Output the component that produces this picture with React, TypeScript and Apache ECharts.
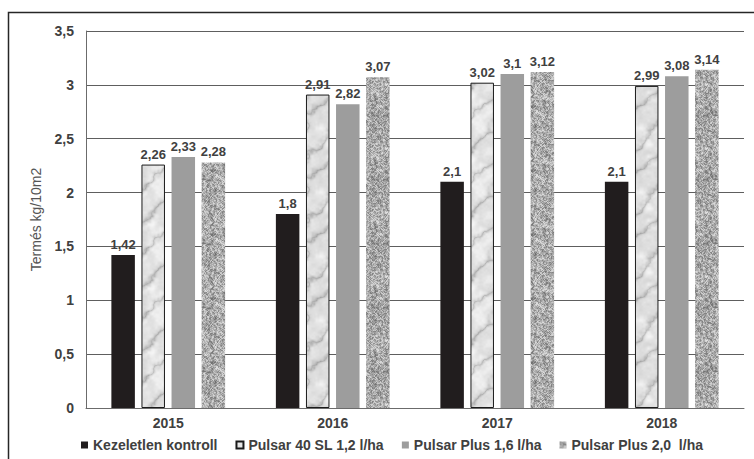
import React, { useEffect, useRef } from "react";
import * as echarts from "echarts";

const years = ["2015", "2016", "2017", "2018"];
const seriesNames = [
  "Kezeletlen kontroll",
  "Pulsar 40 SL 1,2 l/ha",
  "Pulsar Plus 1,6 l/ha",
  "Pulsar Plus 2,0  l/ha",
];
const kontroll = [1.42, 1.8, 2.1, 2.1];
const pulsar40 = [2.26, 2.91, 3.02, 2.99];
const plus16 = [2.33, 2.82, 3.1, 3.08];
const plus20 = [2.28, 3.07, 3.12, 3.14];
const yTicks = { min: 0, max: 3.5, interval: 0.5 };
const yAxisTitle = "Termés kg/10m2";

const FONT = "'Liberation Sans', Arial, sans-serif";

// deterministic integer hash -> [0,1)
function hash(x: number, y: number, s: number): number {
  let h = Math.imul(x, 374761393) + Math.imul(y, 668265263) + Math.imul(s, 982451653);
  h = Math.imul(h ^ (h >>> 13), 1274126177);
  h ^= h >>> 16;
  return (h >>> 0) / 4294967296;
}

// tileable value noise
function valueNoise(x: number, y: number, cell: number, px: number, py: number, seed: number): number {
  const gx = x / cell;
  const gy = y / cell;
  const x0 = Math.floor(gx);
  const y0 = Math.floor(gy);
  const fx = gx - x0;
  const fy = gy - y0;
  const sx = fx * fx * (3 - 2 * fx);
  const sy = fy * fy * (3 - 2 * fy);
  const w = (a: number, n: number) => ((a % n) + n) % n;
  const a = hash(w(x0, px), w(y0, py), seed);
  const b = hash(w(x0 + 1, px), w(y0, py), seed);
  const c = hash(w(x0, px), w(y0 + 1, py), seed);
  const d = hash(w(x0 + 1, px), w(y0 + 1, py), seed);
  return (a * (1 - sx) + b * sx) * (1 - sy) + (c * (1 - sx) + d * sx) * sy;
}

function fbm(x: number, y: number, W: number, H: number, seed: number, base = 16): number {
  let sum = 0;
  let amp = 0.5;
  let cell = base;
  let norm = 0;
  for (let o = 0; o < 4 && cell >= 2; o++) {
    sum += amp * valueNoise(x, y, cell, W / cell, H / cell, seed + o);
    norm += amp;
    amp *= 0.5;
    cell /= 2;
  }
  return sum / norm;
}

// soft white marble with light grey diagonal wisps
function makeMarble(): HTMLCanvasElement {
  const W = 64;
  const H = 64;
  const cv = document.createElement("canvas");
  cv.width = W;
  cv.height = H;
  const ctx = cv.getContext("2d")!;
  const img = ctx.createImageData(W, H);
  for (let y = 0; y < H; y++) {
    for (let x = 0; x < W; x++) {
      const n = fbm(x, y, W, H, 11, 16);
      const t = (x / W) * Math.PI * 2 + (y / H) * Math.PI * 2 + 3.5 * n;
      const streak = Math.pow(1 - Math.abs(Math.sin(t)), 3);
      const cloud = fbm(x, y, W, H, 29, 8);
      const g = Math.max(0, Math.min(255, 250 - 50 * streak - 40 * cloud));
      const i = (y * W + x) * 4;
      img.data[i] = g;
      img.data[i + 1] = g;
      img.data[i + 2] = g;
      img.data[i + 3] = 255;
    }
  }
  ctx.putImageData(img, 0, 0);
  return cv;
}

// fine grey granite speckle
function makeGranite(): HTMLCanvasElement {
  const W = 64;
  const H = 64;
  const cv = document.createElement("canvas");
  cv.width = W;
  cv.height = H;
  const ctx = cv.getContext("2d")!;
  const raw: number[] = [];
  for (let y = 0; y < H; y++) {
    for (let x = 0; x < W; x++) {
      const r = hash(x, y, 7);
      let g: number;
      if (r < 0.25) g = 90 + 40 * hash(x, y, 5);
      else if (r < 0.7) g = 155 + 25 * hash(x, y, 9);
      else g = 205 + 40 * hash(x, y, 13);
      raw.push(g);
    }
  }
  const img = ctx.createImageData(W, H);
  for (let y = 0; y < H; y++) {
    for (let x = 0; x < W; x++) {
      let s = 0;
      for (let dy = -1; dy <= 1; dy++) {
        for (let dx = -1; dx <= 1; dx++) {
          s += raw[((y + dy + H) % H) * W + ((x + dx + W) % W)];
        }
      }
      const g = 0.5 * raw[y * W + x] + 0.5 * (s / 9);
      const i = (y * W + x) * 4;
      img.data[i] = g;
      img.data[i + 1] = g;
      img.data[i + 2] = g;
      img.data[i + 3] = 255;
    }
  }
  ctx.putImageData(img, 0, 0);
  return cv;
}

const comma = (v: number) => String(v).replace(".", ",");

export default function App() {
  const ref = useRef<HTMLDivElement>(null);

  useEffect(() => {
    if (!ref.current) return;
    const chart = echarts.init(ref.current, null, { renderer: "svg" });
    const marble = makeMarble();
    const granite = makeGranite();

    const label = {
      show: true,
      position: "top" as const,
      distance: 4,
      color: "#404040",
      fontFamily: FONT,
      fontWeight: "bold" as const,
      fontSize: 13,
      formatter: (p: any) => comma(p.value),
    };

    const styles = [
      { color: "#211d1e" },
      {
        color: { image: marble, repeat: "repeat", imageWidth: 64, imageHeight: 64 },
        borderColor: "#1a1a1a",
        borderWidth: 1,
      },
      { color: "#9d9d9d" },
      { color: { image: granite, repeat: "repeat", imageWidth: 64, imageHeight: 64 } },
    ];
    const values = [kontroll, pulsar40, plus16, plus20];

    chart.setOption({
      animation: false,
      backgroundColor: "#ffffff",
      textStyle: { fontFamily: FONT },
      graphic: [
        {
          type: "rect",
          shape: { x: 8.5, y: 12.5, width: 800, height: 500 },
          style: { fill: "none", stroke: "#262626", lineWidth: 1.5 },
          silent: true,
        },
      ],
      grid: { left: 86, top: 31, right: 10, bottom: 51 },
      legend: {
        left: 81,
        top: 438,
        padding: 0,
        itemWidth: 7,
        itemHeight: 7,
        itemGap: 18,
        icon: "rect",
        selectedMode: false,
        textStyle: {
          color: "#404040",
          fontFamily: FONT,
          fontWeight: "bold",
          fontSize: 14,
        },
        data: seriesNames,
      },
      xAxis: {
        type: "category",
        data: years,
        axisTick: { show: false },
        axisLine: { lineStyle: { color: "#6b6b6b", width: 1 } },
        axisLabel: {
          color: "#404040",
          fontFamily: FONT,
          fontWeight: "bold",
          fontSize: 14,
          margin: 8,
        },
      },
      yAxis: {
        type: "value",
        min: yTicks.min,
        max: yTicks.max,
        interval: yTicks.interval,
        name: yAxisTitle,
        nameLocation: "middle",
        nameGap: 43,
        nameRotate: 90,
        nameTextStyle: { color: "#555555", fontFamily: FONT, fontSize: 14 },
        axisLine: { show: true, lineStyle: { color: "#6b6b6b", width: 1 } },
        axisTick: { show: false },
        splitLine: { lineStyle: { color: "#5e5e5e", width: 1 } },
        axisLabel: {
          color: "#404040",
          fontFamily: FONT,
          fontWeight: "bold",
          fontSize: 14,
          margin: 12,
          formatter: (v: number) => comma(v),
        },
      },
      series: values.map((vals, k) => ({
        name: seriesNames[k],
        type: "bar",
        data: vals,
        barWidth: 23.5,
        barGap: "28%",
        itemStyle: styles[k],
        label,
      })),
    });

    return () => chart.dispose();
  }, []);

  return (
    <div
      ref={ref}
      style={{ position: "fixed", left: 0, top: 0, width: 754, height: 459 }}
    />
  );
}
